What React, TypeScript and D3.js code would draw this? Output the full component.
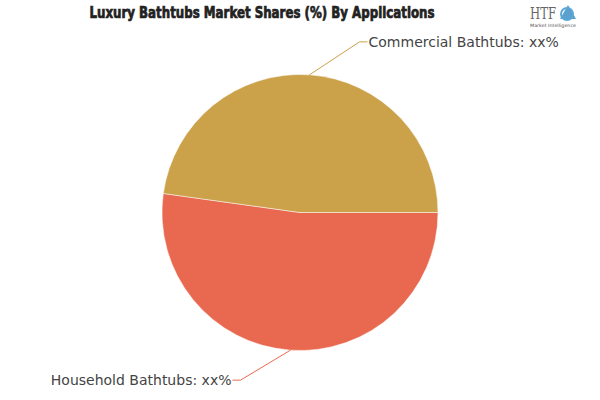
import React from "react";
import * as d3 from "d3";

const categories = ["Household Bathtubs", "Commercial Bathtubs"];
const shares = [52.2, 47.8];
const labelTexts = ["Household Bathtubs: xx%", "Commercial Bathtubs: xx%"];
const colors = ["#E8694F", "#CBA14A"];
const title = "Luxury Bathtubs Market Shares (%) By Applications";

const W = 600;
const H = 400;
const cx = 300;
const cy = 212.5;
const R = 138;

export default function App() {
  const pie = d3
    .pie<number>()
    .sort(null)
    .value((d) => d)
    .startAngle(Math.PI / 2)
    .endAngle(Math.PI / 2 + 2 * Math.PI);
  const arcs = pie(shares);
  const arcGen = d3.arc<d3.PieArcDatum<number>>().innerRadius(0).outerRadius(R);

  return (
    <svg
      width={W}
      height={H}
      style={{ position: "absolute", left: 0, top: 0, background: "#fff" }}
    >
      <text
        x={262}
        y={18}
        textAnchor="middle"
        fontFamily="'Liberation Sans Narrow', 'DejaVu Sans Condensed', sans-serif"
        fontWeight="bold"
        fontSize={16}
        fill="#222"
        stroke="#222"
        strokeWidth={0.7}
        textLength={345}
        lengthAdjust="spacingAndGlyphs"
      >
        {title}
      </text>
      <g transform={`translate(${cx},${cy})`}>
        {arcs.map((a, i) => (
          <path key={categories[i]} d={arcGen(a) || ""} fill={colors[i]} stroke="#fff" strokeWidth={0.5} />
        ))}
      </g>
      {arcs.map((a, i) => {
        const mid = (a.startAngle + a.endAngle) / 2;
        const ex = cx + R * Math.sin(mid);
        const ey = cy - R * Math.cos(mid);
        const up = Math.cos(mid) > 0;
        const right = Math.sin(mid) >= 0 ? 1 : -1;
        const bx = ex + right * 50;
        const by = ey + (up ? -33 : 30);
        const tx = bx + right * 8;
        return (
          <g key={categories[i]}>
            <polyline
              points={`${ex},${ey} ${bx},${by} ${tx},${by}`}
              fill="none"
              stroke={colors[i]}
              strokeWidth={1}
            />
            <text
              x={tx + right * 1}
              y={by}
              dy="0.35em"
              textAnchor={right > 0 ? "start" : "end"}
              fontFamily="'DejaVu Sans', sans-serif"
              fontSize={14}
              fill="#444"
            >
              {labelTexts[i]}
            </text>
          </g>
        );
      })}
      <g transform="translate(530,2)">
        <text x={0} y={17} fontFamily="'DejaVu Serif', serif" fontSize={16} fill="#666" textLength={26} lengthAdjust="spacingAndGlyphs">
          HTF
        </text>
        <path d="M38,3 L46,17 L30,17 Z" fill="#3f8fc4" opacity={0.85} />
        <circle cx={37} cy={12} r={6} fill="none" stroke="#5aa6d6" strokeWidth={2} />
        <text x={0} y={25} fontFamily="'DejaVu Sans', sans-serif" fontSize={4.5} fill="#555" textLength={46} lengthAdjust="spacingAndGlyphs">
          Market Intelligence
        </text>
      </g>
    </svg>
  );
}
